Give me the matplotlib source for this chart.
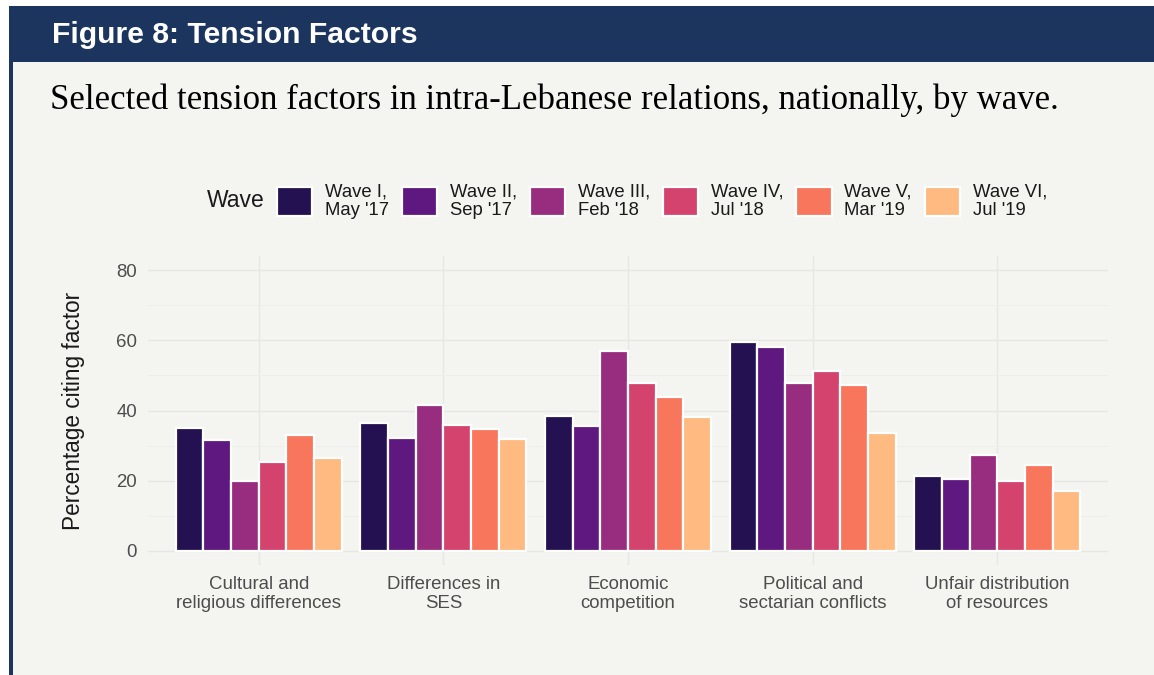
import matplotlib.pyplot as plt
import matplotlib.patches as mpatches
import numpy as np

# data
categories = ['Cultural and\nreligious differences', 'Differences in\nSES', 'Economic\ncompetition',
              'Political and\nsectarian conflicts', 'Unfair distribution\nof resources']
waves = ['Wave I,\nMay \'17', 'Wave II,\nSep \'17', 'Wave III,\nFeb \'18',
         'Wave IV,\nJul \'18', 'Wave V,\nMar \'19', 'Wave VI,\nJul \'19']
values = {
    'Wave I': [35.0, 36.3, 38.4, 59.5, 21.4],
    'Wave II': [31.5, 32.1, 35.7, 58.1, 20.6],
    'Wave III': [19.9, 41.6, 56.9, 47.9, 27.4],
    'Wave IV': [25.3, 35.9, 47.9, 51.2, 19.9],
    'Wave V': [33.0, 34.8, 43.9, 47.3, 24.5],
    'Wave VI': [26.4, 31.9, 38.1, 33.6, 17.2],
}
colors = ['#231151', '#5f187f', '#982d80', '#d3436e', '#f8765c', '#feba80']

W, H = 1154, 675
bg = '#f4f4f0'
navy = '#1c355e'

fig = plt.figure(figsize=(W / 100, H / 100), dpi=100)
fig.patch.set_facecolor('white')

# page frame
fig.add_artist(mpatches.Rectangle((9 / W, 0), 1 - 9 / W, 1 - 6 / H, transform=fig.transFigure,
                                  facecolor=bg, edgecolor='none', zorder=0))
fig.add_artist(mpatches.Rectangle((9 / W, (H - 62) / H), 1 - 9 / W, 56 / H, transform=fig.transFigure,
                                  facecolor=navy, edgecolor='none', zorder=1))
fig.add_artist(mpatches.Rectangle((9 / W, 0), 4 / W, 1 - 6 / H, transform=fig.transFigure,
                                  facecolor=navy, edgecolor='none', zorder=1))

fig.text(52 / W, 1 - 35 / H, 'Figure 8: Tension Factors', color='white', fontsize=21.7,
         fontweight='bold', family='Liberation Sans', va='center', ha='left')
fig.text(50 / W, 1 - 100 / H, 'Selected tension factors in intra-Lebanese relations, nationally, by wave.',
         color='black', fontsize=25, family='Liberation Serif', va='center', ha='left')

ax = fig.add_axes([148 / W, (H - 565) / H, (1108 - 148) / W, (565 - 256) / H])
ax.set_facecolor(bg)
for s in ax.spines.values():
    s.set_visible(False)

x = np.arange(1, len(categories) + 1)
n = len(waves)
bw = 0.9 / n
for i, (k, c) in enumerate(zip(values, colors)):
    ax.bar(x - 0.45 + bw * (i + 0.5), values[k], width=bw, color=c, edgecolor='white',
           linewidth=1.6, label=waves[i], zorder=3)

ax.set_xlim(0.4, 5.6)
ax.set_ylim(-4, 84)
ax.set_yticks([0, 20, 40, 60, 80])
ax.set_yticks([10, 30, 50, 70], minor=True)
ax.set_xticks(x)
ax.set_xticklabels(categories)
ax.grid(True, which='major', color='#e6e6e3', linewidth=1.0, zorder=0)
ax.grid(True, which='minor', axis='y', color='#ececea', linewidth=0.6, zorder=0)
ax.tick_params(axis='both', which='both', length=0, labelsize=13.4, labelcolor='#4d4d4d', pad=8)
for lab in ax.get_xticklabels() + ax.get_yticklabels():
    lab.set_family('Liberation Sans')
    lab.set_linespacing(1.15)
ax.set_ylabel('Percentage citing factor', fontsize=16.3, family='Liberation Sans', labelpad=22,
              color='#1a1a1a')

handles, labels = ax.get_legend_handles_labels()
leg = fig.legend(handles, labels, ncol=6, loc='center left', bbox_to_anchor=(260 / W, 1 - 201 / H),
                 frameon=False, prop={'family': 'Liberation Sans', 'size': 13.3},
                 handlelength=1.9, handleheight=2.0, handletextpad=0.7, columnspacing=0.7,
                 labelspacing=0.2)
for t in leg.get_texts():
    t.set_color('#1a1a1a')
    t.set_linespacing(1.15)
fig.text(207 / W, 1 - 201 / H, 'Wave', fontsize=16.5, family='Liberation Sans', va='center',
         ha='left', color='#1a1a1a')

fig.savefig('out.png', dpi=100, facecolor=fig.get_facecolor())
